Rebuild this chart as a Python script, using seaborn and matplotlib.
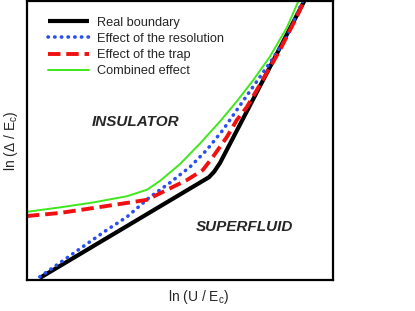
import matplotlib.pyplot as plt
import seaborn as sns
import numpy as np
import pandas as pd

# phase boundary curves (arbitrary log units)
real_x = [0.42, 5.95, 6.12, 6.31, 9.21]
real_y = [0.07, 3.68, 3.88, 4.19, 10.3]

res_x = [0.42, 2.61, 3.27, 4.02, 4.67, 5.33, 5.88, 6.41, 6.86, 7.39, 7.94, 8.50, 8.99, 9.14]
res_y = [0.11, 1.79, 2.26, 2.97, 3.48, 4.05, 4.66, 5.38, 6.09, 6.92, 7.78, 8.71, 9.93, 10.3]

trap_x = [0.00, 1.08, 2.19, 3.27, 3.92, 4.58, 5.23, 5.75, 6.08, 6.54, 6.86, 7.19, 7.71,
          8.27, 8.82, 9.18]
trap_y = [2.29, 2.40, 2.58, 2.76, 2.87, 3.23, 3.58, 3.94, 4.41, 5.13, 5.73, 6.20, 7.17,
          8.24, 9.43, 10.3]

comb_x = [0.00, 1.08, 2.19, 3.27, 3.92, 4.35, 5.00, 5.65, 6.31, 6.86, 7.39, 7.94, 8.50,
          8.86, 9.00]
comb_y = [2.44, 2.60, 2.78, 3.00, 3.23, 3.55, 4.15, 4.88, 5.68, 6.40, 7.15, 8.00, 9.05,
          9.96, 10.3]

sns.set_style('white')
plt.rcParams['font.family'] = ['Liberation Sans', 'DejaVu Sans']

fig = plt.figure(figsize=(4.15, 3.11), dpi=100)
ax = fig.add_axes([0.065, 0.1, 0.737, 0.897])

sns.lineplot(x=real_x, y=real_y, ax=ax, color='black', lw=3.0, sort=False,
             label='Real boundary', solid_capstyle='butt', solid_joinstyle='round')
sns.lineplot(x=res_x, y=res_y, ax=ax, color='#2a4ff0', lw=2.6, sort=False,
             linestyle=(0, (0.1, 1.75)), dash_capstyle='round',
             label='Effect of the resolution')
sns.lineplot(x=trap_x, y=trap_y, ax=ax, color='#f01010', lw=2.8, sort=False,
             linestyle=(0, (3.2, 1.5)), label='Effect of the trap')
sns.lineplot(x=comb_x, y=comb_y, ax=ax, color='#3ee81a', lw=1.4, sort=False,
             label='Combined effect', solid_joinstyle='round')

ax.set_xlim(0, 10)
ax.set_ylim(0, 10)
ax.set_xticks([])
ax.set_yticks([])
for s in ax.spines.values():
    s.set_visible(True)
    s.set_color('black')
    s.set_linewidth(1.6)

ax.text(3.55, 5.65, 'INSULATOR', fontsize=11, fontweight='bold', fontstyle='italic',
        ha='center', va='center')
ax.text(7.1, 1.9, 'SUPERFLUID', fontsize=11, fontweight='bold', fontstyle='italic',
        ha='center', va='center')

ax.set_xlabel('ln (U / E$_\\mathregular{c}$)', fontsize=10)
ax.xaxis.set_label_coords(0.56, -0.03, transform=ax.transAxes)
ax.xaxis.label.set_va('top')
ax.set_ylabel('ln (\u0394 / E$_\\mathregular{c}$)', fontsize=10, labelpad=5)

leg = ax.legend(loc='upper left', bbox_to_anchor=(0.04, 0.975), frameon=False,
                fontsize=9.2, handlelength=3.2, handletextpad=0.6, labelspacing=0.32,
                borderaxespad=0.3)

fig.savefig('out.png', dpi=100)
